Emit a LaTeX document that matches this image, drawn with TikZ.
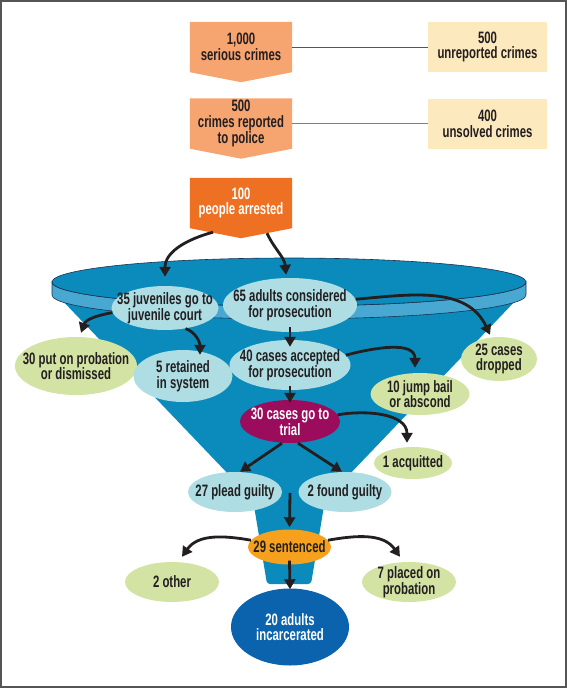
\documentclass[tikz,border=0pt]{standalone}
\usepackage{fontspec}
\setmainfont{Liberation Sans}[FakeStretch=0.69]
\usetikzlibrary{shapes.geometric,arrows.meta,backgrounds}
\definecolor{ink}{RGB}{35,31,32}
\definecolor{salmon}{RGB}{246,164,112}
\definecolor{deeporange}{RGB}{238,112,35}
\definecolor{cream}{RGB}{253,233,190}
\definecolor{funnel}{RGB}{11,139,187}
\definecolor{band}{RGB}{72,168,210}
\definecolor{rimline}{RGB}{25,50,80}
\definecolor{lightcyan}{RGB}{174,221,228}
\definecolor{palegreen}{RGB}{211,227,164}
\definecolor{plum}{RGB}{155,12,92}
\definecolor{amber}{RGB}{246,161,30}
\definecolor{royal}{RGB}{10,99,172}
\definecolor{frame}{RGB}{85,85,85}
\begin{document}
\begin{tikzpicture}[x=1pt, y=-1pt, font=\fontsize{16.5}{15.8}\selectfont\bfseries,
  dropbox/.style={minimum width=102pt, minimum height=50pt, inner sep=0pt, align=center, text=ink},
  sidebox/.style={fill=cream, minimum width=119pt, minimum height=50pt, inner sep=0pt, align=center, text=ink},
  bubble/.style={ellipse, fill=#1, inner sep=0pt},
  every label/.style={align=center, inner sep=0pt, text=ink},
  flow/.style={line width=2.8pt, draw=ink, -{Triangle[length=10pt, width=11pt]}}]
\useasboundingbox (0,0) rectangle (567,688);
\draw[frame, line width=1.6pt] (0.8,0.8) rectangle (566.2,687.2);
% funnel
\fill[funnel, rounded corners=3pt] (58,296) -- (253,500) -- (267,584) -- (311,584) -- (325,500) -- (520,296) -- cycle;
\filldraw[fill=band, draw=rimline, line width=0.6pt] (52,282) arc[start angle=180, end angle=0, x radius=237, y radius=24] -- (526,295) arc[start angle=0, end angle=180, x radius=237, y radius=24] -- cycle;
\filldraw[fill=funnel, draw=rimline, line width=0.6pt] (289,282) ellipse[x radius=237, y radius=24];
% counts above the funnel
\node[dropbox] (serious) at (241,47) {1,000\\serious crimes};
\node[dropbox] (reported) at (241,123.5) {500\\crimes reported\\to police};
\node[dropbox, text=white] (arrested) at (241,203) {100\\people arrested};
\node[sidebox] (unreported) at (487.5,47) {500\\unreported crimes};
\node[sidebox] (unsolved) at (487.5,123.5) {400\\unsolved crimes};
\begin{pgfonlayer}{background}
\foreach \n/\c in {serious/salmon, reported/salmon, arrested/deeporange}
  \fill[\c] (\n.north west) -- (\n.north east) -- (\n.south east) -- ([yshift=-10pt]\n.south) -- (\n.south west) -- cycle;
\end{pgfonlayer}
\draw[frame, line width=1pt] (serious.east) -- (unreported.west);
\draw[gray, line width=1.2pt] (reported.east) -- (unsolved.west);
% stages
\node[bubble=lightcyan, minimum width=107pt, minimum height=44pt, label={center:35 juveniles go to\\juvenile court}] (juvenile) at (165,308) {};
\node[bubble=lightcyan, minimum width=134pt, minimum height=54pt, label={center:65 adults considered\\for prosecution}] (adults) at (290,305) {};
\node[bubble=palegreen, minimum width=122pt, minimum height=58pt, label={center:30 put on probation\\or dismissed}] (probation) at (76,366) {};
\node[bubble=lightcyan, minimum width=99pt, minimum height=52pt, label={center:5 retained\\in system}] (retained) at (183,376) {};
\node[bubble=lightcyan, minimum width=121pt, minimum height=50pt, label={center:40 cases accepted\\for prosecution}] (accepted) at (290,365) {};
\node[bubble=palegreen, minimum width=76pt, minimum height=44pt, label={center:25 cases\\dropped}] (dropped) at (499,359) {};
\node[bubble=palegreen, minimum width=99pt, minimum height=42pt, label={center:10 jump bail\\or abscond}] (jumpbail) at (420,394) {};
\node[bubble=plum, minimum width=100pt, minimum height=43pt, label={[white]center:30 cases go to\\trial}] (trial) at (290,421.5) {};
\node[bubble=palegreen, minimum width=78pt, minimum height=32pt, label={center:1 acquitted}] (acquitted) at (413,463) {};
\node[bubble=lightcyan, minimum width=94pt, minimum height=40pt, label={center:27 plead guilty}] (plead) at (235,492) {};
\node[bubble=lightcyan, minimum width=93pt, minimum height=40pt, label={center:2 found guilty}] (found) at (345,492) {};
\coordinate (guilty) at (290,493);
\node[bubble=amber, minimum width=83pt, minimum height=35pt, label={center:29 sentenced}] (sentenced) at (289.5,547) {};
\node[bubble=palegreen, minimum width=94pt, minimum height=40pt, label={center:2 other}] (other) at (172,582) {};
\node[bubble=palegreen, minimum width=94pt, minimum height=40pt, label={center:7 placed on\\probation}] (placed) at (409,582) {};
\node[bubble=royal, minimum width=118pt, minimum height=77pt, label={[white]center:20 adults\\incarcerated}] (jail) at (290,627) {};
% arrows
\draw[flow] ([shift={(-28pt,-4pt)}]arrested.south) to[out=195, in=90] ([yshift=9pt]juvenile.north);
\draw[flow] ([shift={(26pt,-5pt)}]arrested.south) to[out=-65, in=95] ([shift={(-4pt,3pt)}]adults.north);
\draw[flow] (juvenile.185) to[out=190, in=70] ([shift={(5pt,4pt)}]probation.north);
\draw[flow] (juvenile.-45) to[out=-20, in=90] ([shift={(17pt,-5pt)}]retained.north);
\draw[flow] ([yshift=5pt]adults.south) -- ([yshift=-7pt]accepted.north);
\draw[flow] (adults.5) to[out=5, in=115] ([shift={(-9pt,2pt)}]dropped.north);
\draw[flow] (accepted.10) to[out=15, in=90] ([shift={(-5pt,5pt)}]jumpbail.north);
\draw[flow] ([yshift=4pt]accepted.south) -- ([yshift=-3pt]trial.north);
\draw[flow] (trial.8) to[out=10, in=90] ([shift={(-6pt,4pt)}]acquitted.north);
\draw[flow] ([xshift=-8pt]trial.south) -- ([xshift=5pt]plead.north);
\draw[flow] ([xshift=8pt]trial.south) -- ([xshift=-3pt]found.north);
\draw[flow] (guilty) -- ([yshift=2pt]sentenced.north);
\draw[flow] (sentenced.170) to[out=170, in=55] ([shift={(10pt,5pt)}]other.north);
\draw[flow] (sentenced.10) to[out=10, in=125] ([shift={(-9pt,5pt)}]placed.north);
\draw[flow] ([yshift=4pt]sentenced.south) -- ([yshift=-1pt]jail.north);
\end{tikzpicture}
\end{document}
